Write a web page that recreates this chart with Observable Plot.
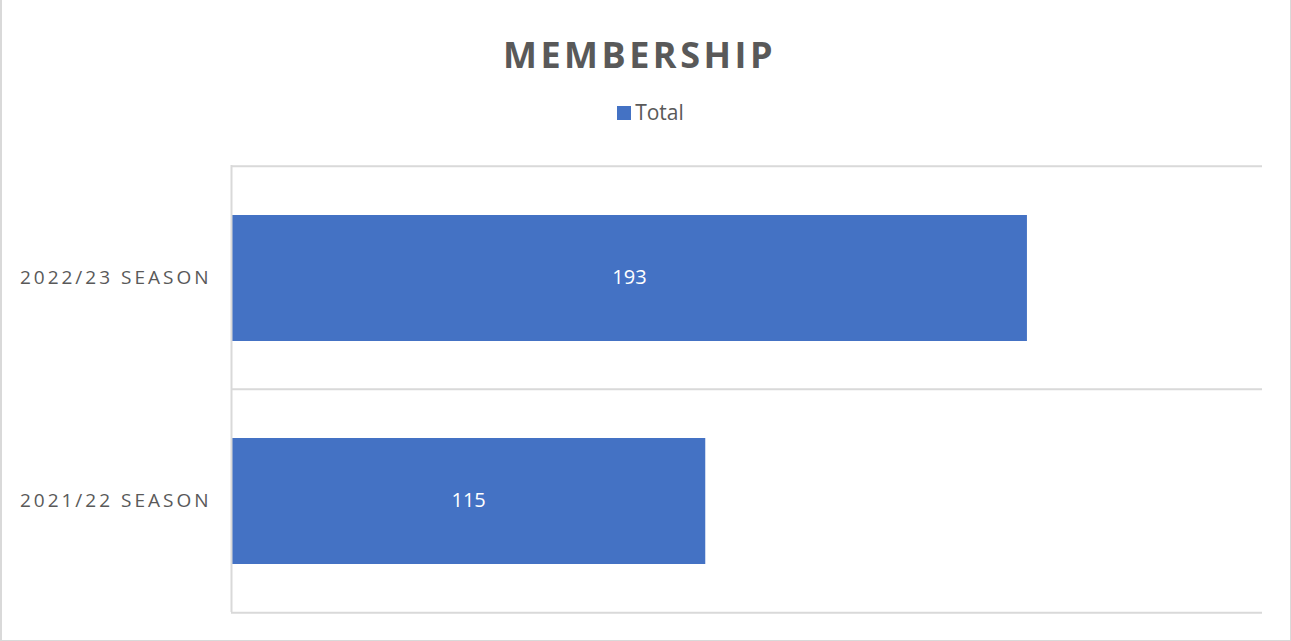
<!DOCTYPE html>
<html><head><meta charset="utf-8">
<script src="https://cdn.jsdelivr.net/npm/d3@7"></script>
<script src="https://cdn.jsdelivr.net/npm/@observablehq/plot@0.6"></script>
<style>
  html, body { margin: 0; padding: 0; background: #fff; }
  body { width: 1291px; height: 641px; overflow: hidden; position: relative; font-family: "Open Sans", sans-serif; }
  #title { box-sizing: border-box; height: 88px; padding-top: 37px; line-height: 36px; font-size: 36px; font-weight: 700; letter-spacing: 3.5px; color: #595959; text-align: center; padding-right: 12px; }
  #legend { box-sizing: border-box; height: 37px; padding-top: 14px; line-height: 21px; font-size: 21px; color: #595959; text-align: center; padding-left: 10px; }
  #legend .sw { display: inline-block; width: 14px; height: 14px; background: #4472c4; margin-right: 4px; vertical-align: baseline; }
  #chart svg { display: block; }
  .chart [aria-label="y-axis tick label"] { letter-spacing: 3px; }
  #frame { position: absolute; left: 0; top: 0; width: 1291px; height: 641px; box-sizing: border-box; border-left: 2px solid #d9d9d9; border-right: 1px solid #d9d9d9; border-bottom: 1px solid #d9d9d9; pointer-events: none; }
</style></head>
<body>
<div id="title"></div>
<div id="legend"><span class="sw"></span><span id="legtext"></span></div>
<div id="chart"></div>
<div id="frame"></div>
<script>
const chartTitle = "MEMBERSHIP";
const seriesName = "Total";
const categories = ["2022/23 SEASON", "2021/22 SEASON"];
const totals = [193, 115];
const xMax = 250;

document.getElementById("title").textContent = chartTitle;
document.getElementById("legtext").textContent = seriesName;

const data = categories.map((c, i) => ({category: c, value: totals[i]}));

const width = 1291, height = 516;
const marginTop = 40, marginBottom = 29, marginLeft = 231, marginRight = 29;
const step = (height - marginTop - marginBottom) / categories.length;
const gridColor = "#d9d9d9";

const plot = Plot.plot({
  width, height, marginTop, marginBottom, marginLeft, marginRight,
  className: "chart",
  style: {fontFamily: "Open Sans, sans-serif", fontSize: "19px", color: "#595959", background: "white"},
  x: {domain: [0, xMax], axis: null},
  y: {domain: categories, padding: 0, label: null, tickSize: 0, tickPadding: 20},
  marks: [
    Plot.ruleY(categories, {y: d => d, dy: -step / 2, stroke: gridColor, strokeWidth: 2}),
    Plot.ruleY(categories.slice(-1), {y: d => d, dy: step / 2, stroke: gridColor, strokeWidth: 2}),
    Plot.barX(data, {x: "value", y: "category", fill: "#4472c4", insetTop: 49, insetBottom: 48}),
    Plot.ruleX([0], {stroke: gridColor, strokeWidth: 2}),
    Plot.text(data, {x: d => d.value / 2, y: "category", text: d => String(d.value), fill: "white", fontSize: 20})
  ]
});
document.getElementById("chart").appendChild(plot);
</script>
</body></html>
